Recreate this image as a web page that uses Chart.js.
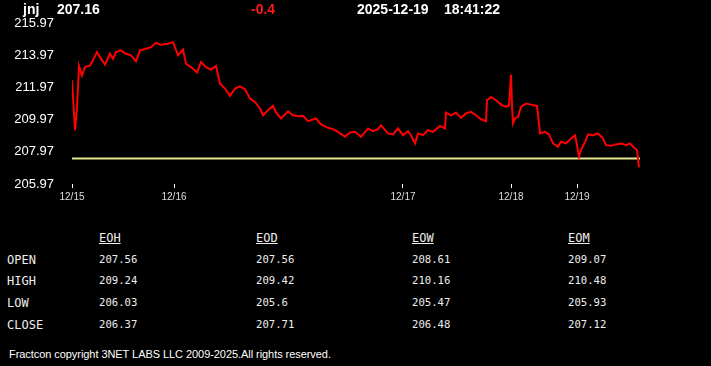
<!DOCTYPE html>
<html><head><meta charset="utf-8">
<script src="https://cdn.jsdelivr.net/npm/chart.js@4.4.1/dist/chart.umd.min.js"></script>
<style>
html,body{margin:0;padding:0;background:#000;width:711px;height:366px;overflow:hidden;}
#wrap{position:relative;width:711px;height:366px;}
#c{position:absolute;left:0;top:0;}
.t{position:absolute;white-space:pre;color:#fff;}
.hd{top:1px;font:bold 14px "Liberation Sans",Arial,sans-serif;line-height:16px;}
.mono{font-family:"DejaVu Sans Mono",monospace;color:#eee;}
.lab{font-size:12px;line-height:14px;}
.val{font-size:10.6px;line-height:14px;}
.colh{font-size:12px;line-height:14px;text-decoration:underline;}
.foot{left:9px;top:347px;font:11px "Liberation Sans",Arial,sans-serif;line-height:14px;letter-spacing:-0.06px;}
</style></head>
<body><div id="wrap">
<canvas id="c" width="711" height="210"></canvas>
</div>
<script>
// ---- header ----
const symbol = "jnj";
const lastPrice = "207.16";
const change = "-0.4";
const dateStr = "2025-12-19";
const timeStr = "18:41:22";
const prevClose = 207.56;

// ---- chart data (bar index, price) ----
const barIdx = [0,3,4,5,7,10,13,18,21,25,28,33,38,41,44,49,54,59,64,68,74,79,84,89,96,101,106,111,114,119,125,129,134,139,144,148,153,158,163,168,173,178,183,188,191,196,201,204,209,216,221,226,231,236,244,249,256,261,266,273,278,283,289,296,301,306,309,316,321,326,331,336,339,343,346,351,356,361,368,373,374,379,384,389,394,399,404,409,414,415,419,424,429,434,437,439,440,441,443,446,449,454,459,465,468,473,477,481,486,489,494,499,503,505,507,509,513,516,521,526,531,534,539,544,549,554,558,563,565,567];
const price = [212.41,209.31,210.0,210.7,213.3,212.72,213.23,213.34,213.65,214.16,213.85,213.38,214.06,213.75,214.16,214.27,214.06,213.96,213.59,214.27,214.37,214.47,214.74,214.62,214.68,214.78,213.96,214.33,213.44,213.23,212.89,213.54,213.23,213.08,213.3,212.2,211.9,211.44,211.9,212.04,211.85,211.28,211.07,210.66,210.24,210.55,210.82,210.41,210.04,210.49,210.24,210.18,210.2,209.87,210.04,209.67,209.46,209.38,209.21,208.9,209.17,209.21,208.9,209.42,209.25,209.38,209.62,209.11,209.05,209.42,209.0,209.25,209.0,208.49,209.11,209.0,209.31,209.21,209.58,209.42,210.41,210.24,210.41,210.08,210.35,210.45,210.24,209.99,209.87,211.17,211.38,211.17,210.9,210.76,210.86,212.76,210.86,209.73,210.04,210.14,210.76,210.97,210.9,210.82,209.11,209.21,209.05,208.49,208.28,208.59,208.49,208.8,209.0,208.38,207.66,208.08,208.59,209.05,209.0,209.11,208.8,208.38,208.34,208.43,208.49,208.38,208.49,208.18,208.08,207.0];
const lastBar = 568;

// ---- axis ticks ----
const dayTicks = [0,102,331,439,505];
const dayLabels = ["12/15","12/16","12/17","12/18","12/19"];
const yTicks = [205.97,207.97,209.97,211.97,213.97,215.97];

// ---- stats table ----
const colNames = ["EOH","EOD","EOW","EOM"];
const rowNames = ["OPEN","HIGH","LOW","CLOSE"];
const eoh = ["207.56","209.24","206.03","206.37"];
const eod = ["207.56","209.42","205.6","207.71"];
const eow = ["208.61","210.16","205.47","206.48"];
const eom = ["209.07","210.48","205.93","207.12"];

const wrap = document.getElementById('wrap');
function addText(txt, cls, left, top, color){
  const d = document.createElement('div');
  d.className = 't ' + cls;
  d.textContent = txt;
  d.style.left = left + 'px';
  if (top !== null) d.style.top = top + 'px';
  if (color) d.style.color = color;
  wrap.appendChild(d);
}
addText(symbol, 'hd', 23, null);
addText(lastPrice, 'hd', 57, null);
addText(change, 'hd', 251, null, '#ff1a1a');
addText(dateStr, 'hd', 357, null);
addText(timeStr, 'hd', 444, null);

const colX = [99, 256, 412, 568];
const rowY = [252, 273, 295, 317];
const cols = [eoh, eod, eow, eom];
colNames.forEach((n,i)=>addText(n, 'mono colh', colX[i], 231));
rowNames.forEach((n,j)=>addText(n, 'mono lab', 7, rowY[j]+1));
cols.forEach((c,i)=>c.forEach((v,j)=>addText(v, 'mono val', colX[i], rowY[j])));
addText("Fractcon copyright 3NET LABS LLC 2009-2025.All rights reserved.", 'foot', 9, 347);

const ctx = document.getElementById('c').getContext('2d');
new Chart(ctx, {
  type: 'line',
  data: {
    datasets: [
      { data: barIdx.map((x,i)=>({x, y: price[i]})), borderColor: '#ff0000', borderWidth: 2, pointRadius: 0, tension: 0 },
      { data: [{x:0, y:prevClose},{x:lastBar, y:prevClose}], borderColor: '#e2e68c', borderWidth: 2, pointRadius: 0 }
    ]
  },
  options: {
    animation: false, responsive: false,
    plugins: { legend: {display:false}, tooltip: {enabled:false} },
    layout: { padding: {left:0, right:71, top:23, bottom:0} },
    scales: {
      x: {
        type: 'linear', min: 0, max: lastBar,
        afterBuildTicks: s => { s.ticks = dayTicks.map(v=>({value:v})); },
        ticks: { callback: (v,i)=>dayLabels[i], color:'#ddd', font:{family:'"Liberation Sans",Arial,sans-serif', size:10}, padding:3, maxRotation:0, autoSkip:false },
        grid: { drawOnChartArea:false, drawTicks:true, tickLength:4, color:'#fff' },
        border: { display:false },
        afterFit: s => { s.height = 26; }
      },
      y: {
        min: 205.97, max: 215.97,
        afterBuildTicks: s => { s.ticks = yTicks.map(v=>({value:v})); },
        ticks: { callback: v=>v.toFixed(2), color:'#fff', font:{family:'"Liberation Sans",Arial,sans-serif', size:13}, padding:10 },
        grid: { display:false },
        border: { display:false },
        afterFit: s => { s.width = 72; }
      }
    }
  }
});
</script>
</body></html>
